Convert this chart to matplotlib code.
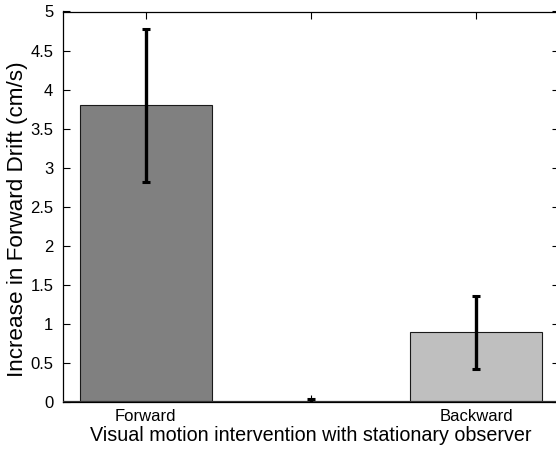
import matplotlib
matplotlib.use('Agg')
import matplotlib.pyplot as plt

# data
positions = [1, 2, 3]
tick_labels = ['Forward', '', 'Backward']
means = [3.80, 0.0, 0.89]
errors = [0.98, 0.04, 0.465]
bar_colors = ['#808080', '#808080', '#bfbfbf']


def main():
    plt.rcParams['font.family'] = ['Liberation Sans', 'DejaVu Sans']

    fig = plt.figure(figsize=(5.56, 4.49), dpi=100)
    # axes run slightly past the right edge, like the cropped original
    ax = fig.add_axes([63 / 556, 47 / 449, 496 / 556, 390.5 / 449])

    ax.bar(positions, means, width=0.8, color=bar_colors,
           edgecolor='#1a1a1a', linewidth=0.8, zorder=2)
    ax.axhline(0, color='#333333', linewidth=1.6, zorder=3)
    ax.errorbar(positions, means, yerr=errors, fmt='none', ecolor='black',
                elinewidth=2.4, capsize=2.6, capthick=2.2, zorder=4)

    ax.set_xlim(0.5, 3.5)
    ax.set_ylim(0, 5)
    ax.set_xticks(positions)
    ax.set_xticklabels(tick_labels)
    ax.set_yticks([0, 0.5, 1, 1.5, 2, 2.5, 3, 3.5, 4, 4.5, 5])
    ax.set_yticklabels(['0', '0.5', '1', '1.5', '2', '2.5', '3', '3.5', '4', '4.5', '5'])
    ax.tick_params(direction='in', top=True, right=True, length=5,
                   width=0.8, labelsize=12)
    ax.tick_params(axis='x', pad=5)
    ax.tick_params(axis='y', pad=7)

    for s in ax.spines.values():
        s.set_linewidth(0.9)

    ax.set_xlabel('Visual motion intervention with stationary observer',
                  fontsize=14.2, labelpad=1.5)
    ax.set_ylabel('Increase in Forward Drift (cm/s)', fontsize=16.2)
    ax.yaxis.set_label_coords(-0.071, 0.467)

    fig.savefig('out.png', dpi=100)


if __name__ == '__main__':
    main()
